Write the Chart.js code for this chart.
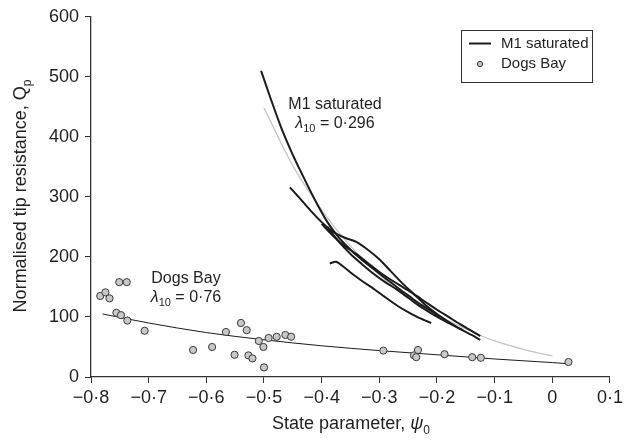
<!DOCTYPE html>
<html>
<head>
<meta charset="utf-8">
<script src="https://cdn.jsdelivr.net/npm/chart.js@4.4.1/dist/chart.umd.min.js"></script>
<style>
  html, body { margin: 0; padding: 0; background: #fff; }
  #wrap { width: 627px; height: 446px; }
</style>
</head>
<body>
<div id="wrap"><canvas id="qpChart" width="627" height="446"></canvas></div>
<script>
// Valeurs
const xTickValues = [-0.8, -0.7, -0.6, -0.5, -0.4, -0.3, -0.2, -0.1, 0, 0.1];
const yTickValues = [0, 100, 200, 300, 400, 500, 600];

// Dogs Bay : points mesurés
const dogsPsi = [-0.784, -0.775, -0.768, -0.756, -0.751, -0.748, -0.738, -0.737, -0.707, -0.623,
                 -0.590, -0.566, -0.551, -0.540, -0.530, -0.527, -0.520, -0.509, -0.501, -0.500,
                 -0.492, -0.478, -0.463, -0.453, -0.293, -0.240, -0.236, -0.233, -0.187, -0.139,
                 -0.124, 0.028];
const dogsQ = [135, 141, 131, 107, 158, 103, 158, 94, 77, 45,
               50, 75, 37, 90, 78, 36, 31, 60, 50, 16,
               65, 67, 70, 67, 44, 36, 33, 45, 38, 33,
               32, 25];

// Dogs Bay : courbe d'ajustement
const dogsFitPsi = [-0.78, -0.7, -0.6, -0.5, -0.4, -0.3, -0.2, -0.1, 0, 0.03];
const dogsFitQ = [105, 90, 74, 62, 52, 44, 37, 30, 24, 22];

// M1 saturé : courbe d'ajustement (grise)
const m1FitPsi = [-0.5, -0.45, -0.4, -0.35, -0.3, -0.25, -0.2, -0.15, -0.1, -0.05, 0];
const m1FitQ = [448, 352, 278, 218, 170, 132, 103, 80, 60, 46, 35];

// M1 saturé : essais (lignes noires)
const m1aPsi = [-0.505, -0.49, -0.47, -0.45, -0.43, -0.41, -0.39, -0.37, -0.35, -0.33, -0.31, -0.29, -0.27, -0.25, -0.23, -0.21, -0.195];
const m1aQ = [510, 468, 415, 370, 330, 292, 258, 232, 212, 195, 180, 165, 150, 136, 122, 110, 100];
const m1bPsi = [-0.455, -0.44, -0.42, -0.40, -0.38, -0.36, -0.34, -0.32, -0.30, -0.28, -0.26, -0.24, -0.22, -0.20, -0.18, -0.16, -0.14, -0.125];
const m1bQ = [316, 300, 278, 258, 242, 232, 225, 212, 196, 176, 156, 138, 120, 105, 92, 80, 70, 62];
const m1cPsi = [-0.39, -0.37, -0.35, -0.33, -0.31, -0.29, -0.27, -0.25, -0.23, -0.21, -0.19, -0.17, -0.155];
const m1cQ = [250, 225, 205, 188, 172, 158, 146, 132, 118, 106, 95, 85, 78];
const m1dPsi = [-0.386, -0.375, -0.36, -0.347, -0.33, -0.307, -0.29, -0.266, -0.25, -0.23, -0.21];
const m1dQ = [189, 192, 182, 172, 160, 145, 133, 117, 108, 98, 90];
const m1ePsi = [-0.40, -0.38, -0.36, -0.34, -0.32, -0.30, -0.28, -0.26, -0.24, -0.22, -0.20, -0.18, -0.16, -0.14, -0.125];
const m1eQ = [255, 235, 218, 205, 190, 175, 162, 150, 138, 125, 112, 100, 88, 77, 68];

const FONT = "'Liberation Sans', Arial, sans-serif";
const INK = '#231f20';

function pts(xs, ys) {
    return xs.map((x, i) => ({ x: x, y: ys[i] }));
}

function fmtTick(v) {
    if (Math.abs(v) < 1e-9) return '0';
    return (v < 0 ? '\u2212' : '') + Math.abs(v).toFixed(1).replace('.', '\u00b7');
}

function m1Line(xs, ys) {
    return {
        type: 'line',
        data: pts(xs, ys),
        borderColor: '#1b1b1b',
        borderWidth: 2,
        pointRadius: 0,
        tension: 0.3,
        fill: false
    };
}

// texte avec lambda italique et indice
function drawLambda(ctx, cx, y, value) {
    const big = '16px ' + FONT;
    const it = 'italic 16px ' + FONT;
    const small = '11px ' + FONT;
    ctx.font = it; const w1 = ctx.measureText('\u03bb').width;
    ctx.font = small; const w2 = ctx.measureText('10').width;
    ctx.font = big; const w3 = ctx.measureText(' = ' + value).width;
    let x = cx - (w1 + w2 + w3) / 2;
    ctx.textAlign = 'left';
    ctx.textBaseline = 'alphabetic';
    ctx.font = it; ctx.fillText('\u03bb', x, y); x += w1;
    ctx.font = small; ctx.fillText('10', x, y + 4); x += w2;
    ctx.font = big; ctx.fillText(' = ' + value, x, y);
}

const extras = {
    id: 'extras',
    afterDraw(chart) {
        const ctx = chart.ctx;
        ctx.save();
        ctx.fillStyle = INK;
        // annotations
        ctx.font = '16px ' + FONT;
        ctx.textAlign = 'center';
        ctx.textBaseline = 'alphabetic';
        ctx.fillText('M1 saturated', 335, 109);
        drawLambda(ctx, 335, 128, '0\u00b7296');
        ctx.font = '16px ' + FONT;
        ctx.textAlign = 'center';
        ctx.fillText('Dogs Bay', 186, 283);
        drawLambda(ctx, 186, 302, '0\u00b776');

        // légende
        ctx.strokeStyle = '#333';
        ctx.lineWidth = 1;
        ctx.strokeRect(461.5, 30.5, 131, 52);
        ctx.beginPath();
        ctx.moveTo(469, 43.5);
        ctx.lineTo(491, 43.5);
        ctx.lineWidth = 2;
        ctx.strokeStyle = '#1b1b1b';
        ctx.stroke();
        ctx.beginPath();
        ctx.arc(480, 64, 2.6, 0, Math.PI * 2);
        ctx.fillStyle = '#c8c8c8';
        ctx.fill();
        ctx.lineWidth = 1;
        ctx.strokeStyle = '#333';
        ctx.stroke();
        ctx.fillStyle = INK;
        ctx.font = '15px ' + FONT;
        ctx.textAlign = 'left';
        ctx.textBaseline = 'middle';
        ctx.fillText('M1 saturated', 501, 44);
        ctx.fillText('Dogs Bay', 501, 64);

        // titres des axes
        ctx.textBaseline = 'alphabetic';
        const t1 = 'State parameter, ';
        ctx.font = '18px ' + FONT; const a1 = ctx.measureText(t1).width;
        ctx.font = 'italic 18px ' + FONT; const a2 = ctx.measureText('\u03c8').width;
        ctx.font = '12px ' + FONT; const a3 = ctx.measureText('0').width;
        let x = 351 - (a1 + a2 + a3) / 2;
        const yb = 429;
        ctx.font = '18px ' + FONT; ctx.fillText(t1, x, yb); x += a1;
        ctx.font = 'italic 18px ' + FONT; ctx.fillText('\u03c8', x, yb); x += a2;
        ctx.font = '12px ' + FONT; ctx.fillText('0', x, yb + 5);

        ctx.translate(26, 196);
        ctx.rotate(-Math.PI / 2);
        const t2 = 'Normalised tip resistance, Q';
        ctx.font = '18px ' + FONT; const b1 = ctx.measureText(t2).width;
        ctx.font = '12px ' + FONT; const b2 = ctx.measureText('p').width;
        let xx = -(b1 + b2) / 2;
        ctx.font = '18px ' + FONT; ctx.fillText(t2, xx, 0); xx += b1;
        ctx.font = '12px ' + FONT; ctx.fillText('p', xx, 5);
        ctx.restore();
    }
};

const ctx = document.getElementById('qpChart').getContext('2d');
new Chart(ctx, {
    data: {
        datasets: [
            {
                type: 'line',
                label: 'M1 fit',
                data: pts(m1FitPsi, m1FitQ),
                borderColor: '#c4c4c4',
                borderWidth: 1.3,
                pointRadius: 0,
                cubicInterpolationMode: 'monotone',
                fill: false,
                order: 5
            },
            Object.assign(m1Line(m1aPsi, m1aQ), { label: 'M1 saturated', order: 1 }),
            Object.assign(m1Line(m1bPsi, m1bQ), { label: 'M1 b', order: 1 }),
            Object.assign(m1Line(m1cPsi, m1cQ), { label: 'M1 c', order: 1 }),
            Object.assign(m1Line(m1dPsi, m1dQ), { label: 'M1 d', order: 1 }),
            Object.assign(m1Line(m1ePsi, m1eQ), { label: 'M1 e', order: 1 }),
            {
                type: 'line',
                label: 'Dogs Bay fit',
                data: pts(dogsFitPsi, dogsFitQ),
                borderColor: '#1b1b1b',
                borderWidth: 1,
                pointRadius: 0,
                cubicInterpolationMode: 'monotone',
                fill: false,
                order: 2
            },
            {
                type: 'scatter',
                label: 'Dogs Bay',
                data: pts(dogsPsi, dogsQ),
                backgroundColor: '#c8c8c8',
                borderColor: '#3a3a3a',
                borderWidth: 1,
                pointRadius: 3.6,
                order: 0
            }
        ]
    },
    options: {
        responsive: false,
        animation: false,
        layout: { padding: { left: 0, right: 15, top: 16, bottom: 0 } },
        plugins: {
            legend: { display: false },
            tooltip: { enabled: false }
        },
        scales: {
            x: {
                type: 'linear',
                min: -0.8,
                max: 0.1,
                afterBuildTicks: (scale) => { scale.ticks = xTickValues.map(v => ({ value: v })); },
                afterFit: (scale) => { scale.height = 69; },
                grid: { drawOnChartArea: false, drawTicks: true, tickLength: 6, color: '#333' },
                border: { color: '#333', width: 1.3 },
                ticks: {
                    color: INK,
                    padding: 4,
                    maxRotation: 0,
                    font: { family: FONT, size: 18 },
                    callback: (v) => fmtTick(v)
                }
            },
            y: {
                type: 'linear',
                min: 0,
                max: 600,
                afterBuildTicks: (scale) => { scale.ticks = yTickValues.map(v => ({ value: v })); },
                afterFit: (scale) => { scale.width = 91; },
                grid: { drawOnChartArea: false, drawTicks: true, tickLength: 6, color: '#333' },
                border: { color: '#333', width: 1.3 },
                ticks: {
                    color: INK,
                    padding: 6,
                    font: { family: FONT, size: 18 }
                }
            }
        }
    },
    plugins: [extras]
});
</script>
</body>
</html>
